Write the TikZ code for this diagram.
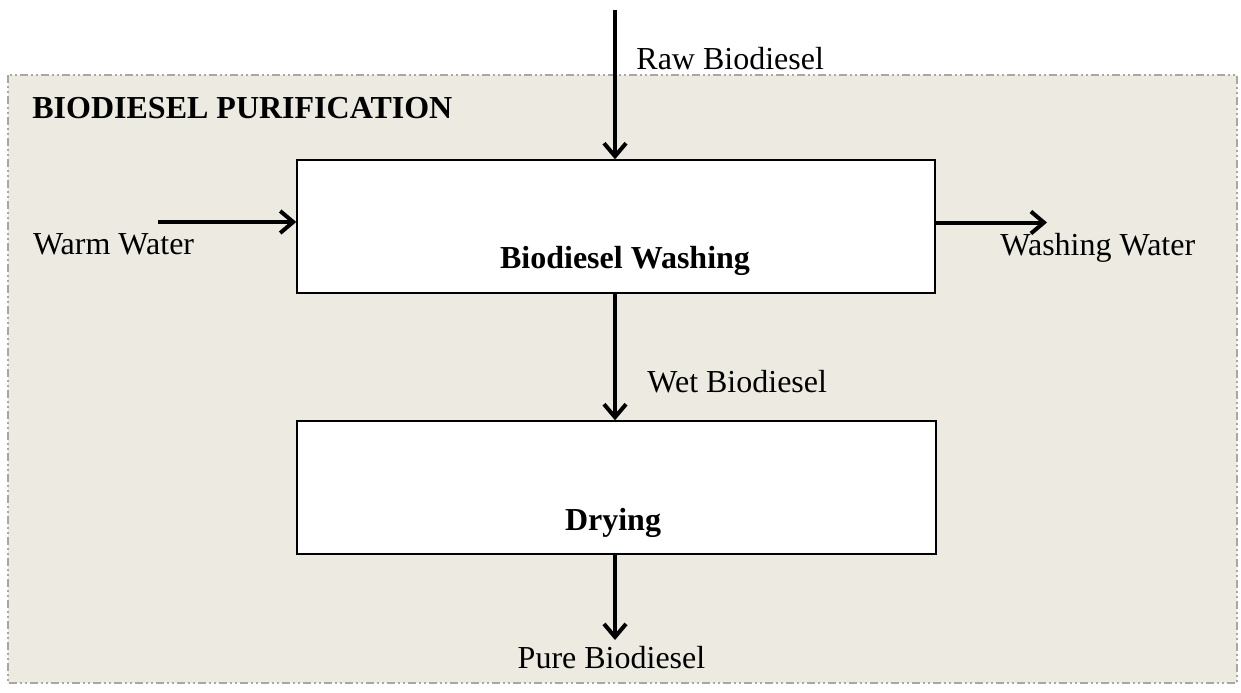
\documentclass[tikz,border=0pt]{standalone}
\usepackage{fontspec}
\setmainfont{Liberation Serif}
\usetikzlibrary{arrows.meta,calc}
\definecolor{panelfill}{HTML}{ECEAE1}
\definecolor{panelline}{HTML}{A8A8A0}
\tikzset{
  panel/.style={fill=panelfill,draw=panelline,line width=0.8pt,
    dash pattern={on 4pt off 1.5pt on 1pt off 1.5pt on 1pt off 1.5pt}},
  procbox/.style={draw=black,fill=white,line width=0.7pt,rectangle,inner sep=0pt},
  flow/.style={line width=2pt,-{Straight Barb[length=6.5pt,width=11pt,line width=2pt]}},
  lbl/.style={font=\fontsize{16}{19}\selectfont,inner sep=0pt},
  blbl/.style={font=\fontsize{16}{19}\selectfont\bfseries,inner sep=0pt},
}
\begin{document}
\begin{tikzpicture}[x=0.5pt,y=-0.5pt]
\useasboundingbox (0,0) rectangle (1241,692);
\fill[white] (0,0) rectangle (1241,692);
\path[panel] (8,75) rectangle (1237,683);
\node[blbl,anchor=base west] (title) at (32,118.3) {BIODIESEL PURIFICATION};
\node[procbox,minimum width=319pt,minimum height=66.5pt] (wash) at (616,226.5) {};
\node[procbox,minimum width=319.5pt,minimum height=66.5pt] (dry) at (616.5,487.5) {};
\node[blbl,anchor=base] (washtxt) at (625,268.3) {Biodiesel Washing};
\node[blbl,anchor=base] (drytxt) at (613,530.7) {Drying};
\node[lbl,anchor=base west] (raw) at (636,69.3) {Raw Biodiesel};
\node[lbl,anchor=base west] (warm) at (32.7,254) {Warm Water};
\node[lbl,anchor=base west] (wwater) at (1000,255) {Washing Water};
\node[lbl,anchor=base west] (wet) at (647,392.7) {Wet Biodiesel};
\node[lbl,anchor=base] (pure) at (611.5,668.3) {Pure Biodiesel};
\coordinate (rawtop) at (615,10);
\coordinate (warmstart) at (158,222);
\coordinate (wwend) at (1047,222.5);
\coordinate (pureend) at (615,640);
\draw[flow] (rawtop) -- (wash.north -| rawtop);
\draw[flow] (warmstart) -- (wash.west |- warmstart);
\draw[flow] (wash.east |- wwend) -- (wwend);
\draw[flow] (wash.south -| rawtop) -- (dry.north -| rawtop);
\draw[flow] (dry.south -| pureend) -- (pureend);
\end{tikzpicture}
\end{document}
